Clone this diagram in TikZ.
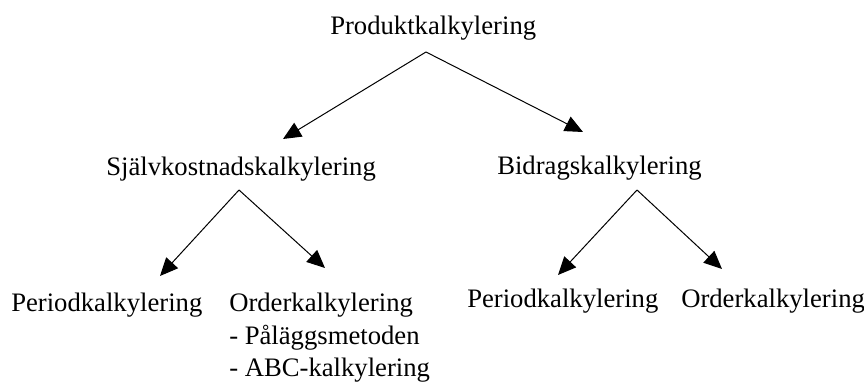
\documentclass[tikz,border=0pt]{standalone}
\usepackage{fontspec}
\setmainfont{Liberation Serif}
\usetikzlibrary{arrows.meta}
\begin{document}
\begin{tikzpicture}[x=0.75pt,y=-0.75pt,
  lbl/.style={anchor=base west,inner sep=0pt,font=\fontsize{20}{24}\selectfont},
  conn/.style={line width=0.75pt,-{Triangle[length=13.5pt,width=12pt]}}]
\useasboundingbox (0,0) rectangle (864,384);
\node[lbl] (prod) at (330,35) {Produktkalkylering};
\node[lbl] (sjalv) at (106,176) {Självkostnadskalkylering};
\node[lbl] (bidr) at (497,175) {Bidragskalkylering};
\node[lbl] (per1) at (11,312) {Periodkalkylering};
\node[lbl] (ord1) at (229,312) {Orderkalkylering};
\node[lbl] (pal) at (229,345) {- Påläggsmetoden};
\node[lbl] (abc) at (229,377) {- ABC-kalkylering};
\node[lbl] (per2) at (467,308) {Periodkalkylering};
\node[lbl] (ord2) at (681,308) {Orderkalkylering};
\coordinate (p0) at (426,52);
\coordinate (p1) at (283,139);
\coordinate (p2) at (583,132);
\coordinate (s0) at (239,190);
\coordinate (s1) at (160,276);
\coordinate (s2) at (325,268);
\coordinate (b0) at (637,190);
\coordinate (b1) at (558,275);
\coordinate (b2) at (722,269);
\draw[conn] (p0) -- (p1);
\draw[conn] (p0) -- (p2);
\draw[conn] (s0) -- (s1);
\draw[conn] (s0) -- (s2);
\draw[conn] (b0) -- (b1);
\draw[conn] (b0) -- (b2);
\end{tikzpicture}
\end{document}
